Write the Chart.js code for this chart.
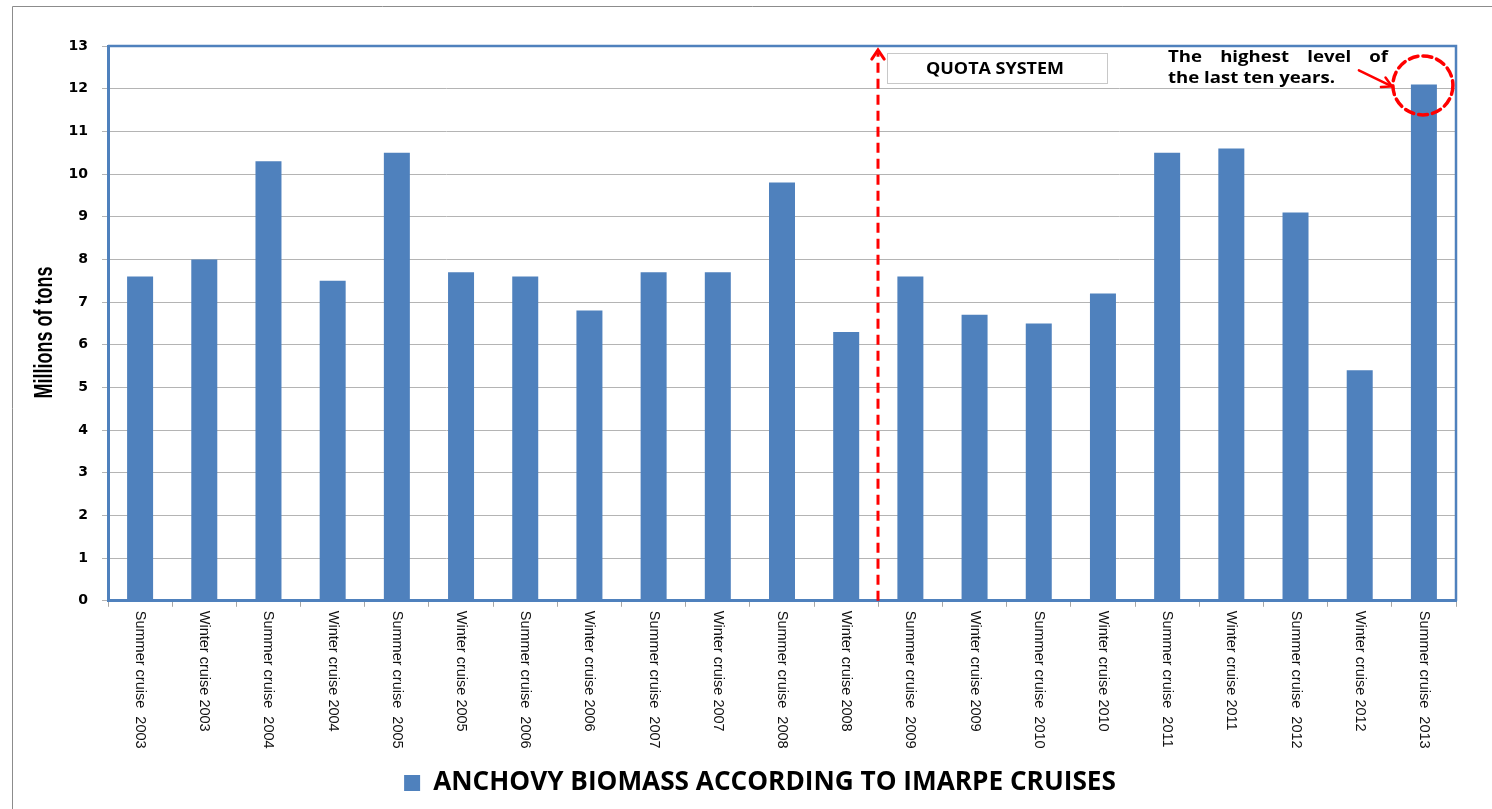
<!DOCTYPE html>
<html>
<head>
<meta charset="utf-8">
<script src="https://cdn.jsdelivr.net/npm/chart.js@4/dist/chart.umd.min.js"></script>
<style>
  html, body { margin: 0; padding: 0; background: #fff; }
  #wrap { width: 1492px; height: 809px; position: relative; }
</style>
</head>
<body>
<div id="wrap"><canvas id="c" width="1492" height="809"></canvas></div>
<script>
const categories = [
  "Summer cruise  2003", "Winter cruise 2003",
  "Summer cruise  2004", "Winter cruise 2004",
  "Summer cruise  2005", "Winter cruise 2005",
  "Summer cruise  2006", "Winter cruise 2006",
  "Summer cruise  2007", "Winter cruise 2007",
  "Summer cruise  2008", "Winter cruise 2008",
  "Summer cruise  2009", "Winter cruise 2009",
  "Summer cruise  2010", "Winter cruise 2010",
  "Summer cruise  2011", "Winter cruise 2011",
  "Summer cruise  2012", "Winter cruise 2012",
  "Summer cruise  2013"
];
const biomass = [7.6, 8.0, 10.3, 7.5, 10.5, 7.7, 7.6, 6.8, 7.7, 7.7, 9.8, 6.3,
                 7.6, 6.7, 6.5, 7.2, 10.5, 10.6, 9.1, 5.4, 12.1];
const seriesName = "ANCHOVY BIOMASS ACCORDING TO IMARPE CRUISES";
const yAxisTitle = "Millions of tons";
const yMin = 0, yMax = 13, yStep = 1;
const quotaLabel = "QUOTA SYSTEM";
const quotaStartIndex = 12;
const noteLine1 = ["The", "highest", "level", "of"];
const noteLine2 = "the last ten years.";
const highlightIndex = 20;

const BLUE = "#4f81bd";
const RED = "#ff0000";

function arrowHead(ctx, x1, y1, x2, y2, len, ang) {
  const a = Math.atan2(y2 - y1, x2 - x1);
  ctx.beginPath();
  ctx.moveTo(x2 - len * Math.cos(a - ang), y2 - len * Math.sin(a - ang));
  ctx.lineTo(x2, y2);
  ctx.lineTo(x2 - len * Math.cos(a + ang), y2 - len * Math.sin(a + ang));
  ctx.stroke();
}

// draw text stretched horizontally to a target width
function stretchText(ctx, text, x, y, targetW) {
  const w = ctx.measureText(text).width;
  const sx = targetW / w;
  ctx.save();
  ctx.translate(x, y);
  ctx.scale(sx, 1);
  ctx.fillText(text, 0, 0);
  ctx.restore();
  return sx;
}

const decorPlugin = {
  id: "decor",
  afterLayout(chart) {
    // legend in the reference sits a little right of the canvas centre
    const lg = chart.legend;
    if (lg) { lg.left += 26; lg.right += 26; }
  },
  beforeDraw(chart) {
    const ctx = chart.ctx;
    ctx.save();
    ctx.strokeStyle = "#8c8c8c";
    ctx.lineWidth = 1;
    ctx.beginPath();
    ctx.moveTo(12.5, 820);
    ctx.lineTo(12.5, 6.5);
    ctx.lineTo(1500, 6.5);
    ctx.stroke();
    ctx.restore();
  },
  afterDraw(chart) {
    const ctx = chart.ctx;
    const xs = chart.scales.x, ys = chart.scales.y;
    const ca = chart.chartArea;
    ctx.save();

    // plot frame (top & right)
    ctx.strokeStyle = BLUE;
    ctx.lineWidth = 2.5;
    ctx.beginPath();
    ctx.moveTo(ca.left, ca.top);
    ctx.lineTo(ca.right, ca.top);
    ctx.lineTo(ca.right, ca.bottom);
    ctx.stroke();

    // y axis title (condensed bold)
    ctx.save();
    ctx.fillStyle = "#000";
    ctx.font = "bold 25px 'Liberation Sans', Arial, sans-serif";
    ctx.textAlign = "center";
    ctx.textBaseline = "middle";
    ctx.translate(45, (ca.top + ca.bottom) / 2 + 9);
    ctx.rotate(-Math.PI / 2);
    ctx.scale(0.72, 1);
    ctx.fillText(yAxisTitle, 0, 0);
    ctx.restore();

    // category labels, rotated clockwise
    ctx.fillStyle = "#111";
    ctx.font = "14.5px 'Liberation Sans', Arial, sans-serif";
    ctx.textAlign = "left";
    ctx.textBaseline = "middle";
    categories.forEach((lab, i) => {
      const x = xs.getPixelForValue(i);
      ctx.save();
      ctx.translate(x, ca.bottom + 10);
      ctx.rotate(Math.PI / 2);
      ctx.fillText(lab, 0, 0);
      ctx.restore();
    });

    // quota system dashed arrow
    const qx = Math.round((xs.getPixelForValue(quotaStartIndex - 1) + xs.getPixelForValue(quotaStartIndex)) / 2);
    const topY = ys.getPixelForValue(yMax) + 4;
    ctx.strokeStyle = RED;
    ctx.lineWidth = 3;
    ctx.setLineDash([10, 6]);
    ctx.beginPath();
    ctx.moveTo(qx, ys.getPixelForValue(0));
    ctx.lineTo(qx, topY + 3);
    ctx.stroke();
    ctx.setLineDash([]);
    ctx.lineWidth = 3;
    ctx.lineCap = "round";
    arrowHead(ctx, qx, topY + 20, qx, topY, 11, 0.6);

    // quota box
    const bx = qx + 9, by = ca.top + 7, bw = 220, bh = 30;
    ctx.fillStyle = "#fff";
    ctx.fillRect(bx, by, bw, bh);
    ctx.strokeStyle = "#c8c8c8";
    ctx.lineWidth = 1;
    ctx.strokeRect(bx + 0.5, by + 0.5, bw, bh);
    ctx.fillStyle = "#000";
    ctx.font = "bold 16px 'Open Sans', 'Noto Sans', sans-serif";
    ctx.textAlign = "left";
    ctx.textBaseline = "middle";
    stretchText(ctx, quotaLabel, bx + 39, by + bh / 2 + 1, 138);

    // highlight circle
    const hx = xs.getPixelForValue(highlightIndex);
    const hy = ys.getPixelForValue(biomass[highlightIndex]);
    ctx.strokeStyle = RED;
    ctx.lineWidth = 3.5;
    ctx.setLineDash([9, 5]);
    ctx.beginPath();
    ctx.ellipse(hx - 1, hy + 1, 30, 29.5, 0, 0, Math.PI * 2);
    ctx.stroke();
    ctx.setLineDash([]);

    // note text
    ctx.fillStyle = "#000";
    ctx.font = "bold 16px 'Open Sans', 'Noto Sans', sans-serif";
    ctx.textAlign = "left";
    ctx.textBaseline = "alphabetic";
    const tx = ca.right - 288, tw = 220;
    const sx = 167 / ctx.measureText(noteLine2).width;
    const widths = noteLine1.map(w => ctx.measureText(w).width * sx);
    const total = widths.reduce((a, b) => a + b, 0);
    const gap = (tw - total) / (noteLine1.length - 1);
    let cx = tx;
    noteLine1.forEach((w, i) => { stretchText(ctx, w, cx, ca.top + 16, widths[i]); cx += widths[i] + gap; });
    stretchText(ctx, noteLine2, tx, ca.top + 37, 167);

    // note arrow
    ctx.strokeStyle = RED;
    ctx.lineWidth = 2.5;
    ctx.lineCap = "round";
    const ax1 = hx - 65, ay1 = hy - 14, ax2 = hx - 32, ay2 = hy + 2;
    ctx.beginPath();
    ctx.moveTo(ax1, ay1);
    ctx.lineTo(ax2, ay2);
    ctx.stroke();
    arrowHead(ctx, ax1, ay1, ax2, ay2, 11, 0.5);

    ctx.restore();
  }
};

new Chart(document.getElementById("c"), {
  type: "bar",
  data: {
    labels: categories,
    datasets: [{
      label: seriesName,
      data: biomass,
      backgroundColor: BLUE,
      borderWidth: 0,
      barPercentage: 0.9,
      categoryPercentage: 0.45
    }]
  },
  options: {
    responsive: false,
    animation: false,
    events: [],
    layout: { padding: { top: 46, left: 12, right: 36, bottom: 3 } },
    plugins: {
      tooltip: { enabled: false },
      legend: {
        position: "bottom",
        labels: {
          boxWidth: 16, boxHeight: 16, padding: 10,
          color: "#000",
          font: { family: "'Open Sans', 'Noto Sans', sans-serif", size: 26.2, weight: "bold" }
        }
      }
    },
    scales: {
      x: {
        afterFit(s) { s.height = 159; },
        ticks: { display: false },
        grid: { offset: true, drawOnChartArea: false, drawTicks: true, tickLength: 6, color: "#a6a6a6" },
        border: { color: BLUE, width: 3 }
      },
      y: {
        min: yMin, max: yMax,
        afterFit(s) { s.width = 96; },
        ticks: {
          stepSize: yStep, padding: 14, color: "#000",
          font: { family: "'DejaVu Sans', Verdana, sans-serif", size: 14, weight: "bold" }
        },
        grid: { color: "#b4b4b4", lineWidth: 1, tickLength: 6 },
        border: { color: BLUE, width: 3 },
        title: { display: false }
      }
    }
  },
  plugins: [decorPlugin]
});
</script>
</body>
</html>
